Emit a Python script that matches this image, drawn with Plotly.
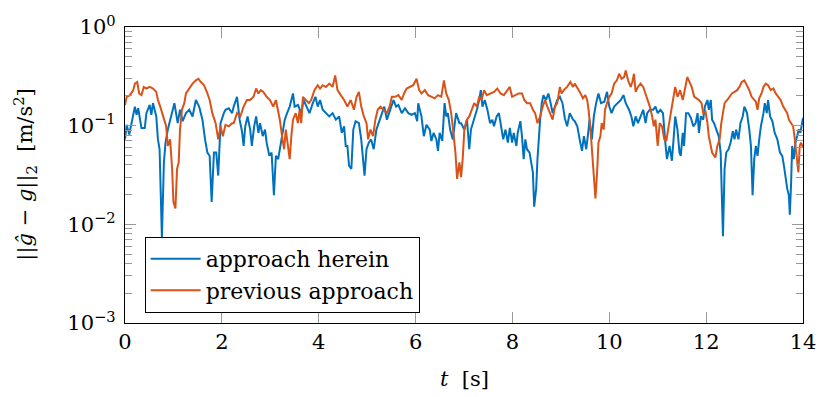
import plotly.graph_objects as go

# ---- data ----
t_herein = [0.0, 0.034, 0.088, 0.136, 0.204, 0.238, 0.272, 0.340, 0.408, 0.442, 0.510, 0.544, 0.578, 0.646, 0.680, 0.714, 0.762, 0.803, 0.837, 0.884, 0.952, 1.020, 1.054, 1.088, 1.136, 1.190, 1.259, 1.327, 1.395, 1.463, 1.531, 1.599, 1.653, 1.701, 1.748, 1.789, 1.837, 1.884, 1.925, 1.973, 2.041, 2.075, 2.143, 2.211,
            2.245, 2.313, 2.367, 2.415, 2.449, 2.483, 2.531, 2.585, 2.619, 2.667, 2.708, 2.755, 2.789, 2.844, 2.891, 2.925, 2.980, 3.027, 3.075, 3.116, 3.163, 3.197, 3.252, 3.299, 3.347, 3.401, 3.469, 3.503, 3.571, 3.639, 3.687, 3.742, 3.810, 3.878, 3.932, 3.980, 4.027, 4.082, 4.150, 4.218, 4.286, 4.354, 4.422, 4.476, 4.524, 4.558,
            4.592, 4.626, 4.674, 4.714, 4.762, 4.830, 4.878, 4.919, 4.946, 4.987, 5.034, 5.082, 5.136, 5.191, 5.238, 5.306, 5.354, 5.408, 5.476, 5.544, 5.599, 5.646, 5.714, 5.782, 5.850, 5.918, 5.986, 6.034, 6.054, 6.122, 6.170, 6.225, 6.293, 6.327, 6.374, 6.429, 6.463, 6.497, 6.551, 6.599, 6.633, 6.667, 6.714, 6.769, 6.837, 6.905,
            6.939, 7.007, 7.061, 7.109, 7.143, 7.211, 7.266, 7.313, 7.347, 7.381, 7.429, 7.483, 7.538, 7.585, 7.619, 7.674, 7.721, 7.755, 7.810, 7.857, 7.905, 7.946, 7.993, 8.027, 8.082, 8.109, 8.164, 8.197, 8.232, 8.266, 8.300, 8.354, 8.381, 8.422, 8.449, 8.490, 8.517, 8.544, 8.572, 8.606, 8.640, 8.694, 8.742, 8.789, 8.830, 8.878, 8.925, 8.980, 9.034, 9.082, 9.129, 9.184, 9.252,
            9.286, 9.340, 9.388, 9.436, 9.476, 9.524, 9.572, 9.592, 9.640, 9.681, 9.728, 9.776, 9.830, 9.898, 9.953, 10.000, 10.048, 10.102, 10.170, 10.238, 10.293, 10.340, 10.408, 10.456, 10.497, 10.544, 10.592, 10.646, 10.701, 10.749, 10.783, 10.837, 10.905, 10.953, 11.000, 11.055, 11.109, 11.157, 11.191, 11.245, 11.293, 11.327, 11.361, 11.408, 11.449, 11.476, 11.517, 11.544, 11.585,
            11.633, 11.687, 11.735, 11.783, 11.823, 11.851, 11.891, 11.939, 11.973, 12.027, 12.055, 12.096, 12.123, 12.164, 12.211, 12.259, 12.300, 12.327, 12.347, 12.381, 12.415, 12.463, 12.504, 12.551, 12.585, 12.619, 12.667, 12.708, 12.755, 12.789, 12.844, 12.891, 12.925, 12.959, 12.993, 13.027, 13.061, 13.096, 13.130, 13.184, 13.211, 13.252, 13.279, 13.320, 13.368, 13.415, 13.470, 13.524, 13.572, 13.606, 13.640, 13.674, 13.708, 13.728, 13.755, 13.776, 13.810, 13.844, 13.878, 13.912, 13.946, 13.980, 14.0]
err_herein = [0.0726, 0.102, 0.0814, 0.106, 0.156, 0.129, 0.150, 0.0948, 0.0948, 0.134, 0.162, 0.129, 0.169, 0.124, 0.0726, 0.0577, 0.0073, 0.0424, 0.0672, 0.0913, 0.124, 0.169, 0.134, 0.106, 0.145, 0.111, 0.134, 0.145, 0.124, 0.182, 0.156, 0.115, 0.0726, 0.0534, 0.0495, 0.0169, 0.0534, 0.0534, 0.0312, 0.106, 0.134, 0.145, 0.150, 0.134,
              0.156, 0.196, 0.115, 0.0879, 0.0623, 0.0985, 0.124, 0.0913, 0.0623, 0.0985, 0.124, 0.0846, 0.106, 0.0783, 0.0913, 0.0672, 0.0495, 0.0534, 0.0197, 0.0495, 0.0458, 0.0577, 0.0913, 0.115, 0.134, 0.156, 0.212, 0.156, 0.162, 0.134, 0.182, 0.156, 0.134, 0.169, 0.196, 0.156, 0.182, 0.145, 0.134, 0.124, 0.134, 0.115, 0.124, 0.0846, 0.0985, 0.0623,
              0.0623, 0.0393, 0.0364, 0.0913, 0.111, 0.106, 0.0726, 0.0424, 0.0312, 0.0577, 0.0672, 0.0726, 0.0577, 0.0913, 0.106, 0.134, 0.156, 0.115, 0.145, 0.182, 0.156, 0.162, 0.134, 0.150, 0.134, 0.129, 0.134, 0.111, 0.169, 0.124, 0.0783, 0.102, 0.0913, 0.0699, 0.0846, 0.0726, 0.0555, 0.0846, 0.0699, 0.169, 0.124, 0.134, 0.0913, 0.0726, 0.134, 0.106,
              0.106, 0.0913, 0.115, 0.0577, 0.0913, 0.115, 0.145, 0.182, 0.229, 0.156, 0.182, 0.145, 0.106, 0.115, 0.0985, 0.124, 0.134, 0.106, 0.0726, 0.0913, 0.0672, 0.0948, 0.0672, 0.0846, 0.0623, 0.0846, 0.111, 0.0783, 0.0458, 0.0726, 0.0577, 0.0534, 0.0458, 0.0337, 0.0151, 0.0230, 0.0458, 0.0783, 0.115, 0.169, 0.204, 0.182, 0.212, 0.169, 0.134, 0.156, 0.182, 0.196, 0.169, 0.119, 0.0985, 0.134, 0.115,
              0.111, 0.0985, 0.0726, 0.0555, 0.0783, 0.0577, 0.0913, 0.115, 0.0726, 0.124, 0.169, 0.212, 0.169, 0.175, 0.220, 0.156, 0.134, 0.156, 0.169, 0.182, 0.204, 0.169, 0.145, 0.124, 0.0985, 0.124, 0.106, 0.124, 0.145, 0.106, 0.134, 0.145, 0.145, 0.156, 0.134, 0.145, 0.134, 0.0672, 0.0458, 0.0623, 0.0441, 0.0726, 0.124, 0.0913, 0.0534, 0.0495, 0.0846, 0.0623, 0.134,
              0.134, 0.119, 0.0985, 0.106, 0.134, 0.0846, 0.124, 0.115, 0.156, 0.182, 0.145, 0.182, 0.115, 0.106, 0.0913, 0.0783, 0.0534, 0.0197, 0.00757, 0.0364, 0.0534, 0.0577, 0.0672, 0.0879, 0.0726, 0.0913, 0.0726, 0.106, 0.124, 0.156, 0.134, 0.0913, 0.0623, 0.0197, 0.0458, 0.0623, 0.0495, 0.0726, 0.0985, 0.134, 0.169, 0.134, 0.182, 0.124, 0.111, 0.0846, 0.0726, 0.0534, 0.0495, 0.0393, 0.0289, 0.0230, 0.0197, 0.0125, 0.0268, 0.0623, 0.0458, 0.0672, 0.0783, 0.0913, 0.0846, 0.115, 0.12]

t_prev = [0.0, 0.034, 0.102, 0.170, 0.204, 0.252, 0.293, 0.340, 0.388, 0.442, 0.510, 0.578, 0.646, 0.680, 0.728, 0.782, 0.850, 0.884, 0.932, 0.973, 1.000, 1.041, 1.075, 1.109, 1.136, 1.177, 1.224, 1.259, 1.327, 1.395, 1.463, 1.517, 1.565, 1.633, 1.701, 1.748, 1.803, 1.871, 1.925, 1.973, 2.020, 2.075, 2.143, 2.211,
          2.245, 2.313, 2.381, 2.449, 2.517, 2.585, 2.653, 2.708, 2.755, 2.803, 2.857, 2.925, 2.993, 3.061, 3.116, 3.163, 3.197, 3.252, 3.286, 3.320, 3.354, 3.401, 3.435, 3.469, 3.524, 3.571, 3.605, 3.639, 3.674, 3.742, 3.796, 3.844, 3.912, 3.980, 4.027, 4.082, 4.150, 4.218, 4.286, 4.340, 4.388, 4.456, 4.524,
          4.592, 4.660, 4.728, 4.782, 4.830, 4.878, 4.932, 4.987, 5.020, 5.068, 5.122, 5.170, 5.218, 5.272, 5.340, 5.408, 5.463, 5.510, 5.578, 5.646, 5.714, 5.762, 5.816, 5.884, 5.952, 6.020, 6.075, 6.122, 6.191, 6.259, 6.327, 6.395, 6.463, 6.531, 6.585, 6.633, 6.687, 6.735, 6.782, 6.823, 6.857, 6.905, 6.939, 6.973,
          7.007, 7.061, 7.109, 7.157, 7.211, 7.266, 7.313, 7.361, 7.415, 7.470, 7.551, 7.619, 7.687, 7.755, 7.823, 7.891, 7.946, 7.993, 8.061, 8.129, 8.197, 8.245, 8.300, 8.368, 8.422, 8.469, 8.517, 8.572, 8.626, 8.674, 8.721, 8.776, 8.830, 8.878, 8.925, 8.980, 9.014, 9.061, 9.129, 9.197, 9.252,
          9.286, 9.354, 9.408, 9.456, 9.504, 9.544, 9.572, 9.612, 9.640, 9.667, 9.694, 9.714, 9.749, 9.776, 9.817, 9.844, 9.885, 9.912, 9.953, 10.000, 10.048, 10.102, 10.157, 10.204, 10.252, 10.306, 10.340, 10.388, 10.442, 10.476, 10.510, 10.544, 10.592, 10.646, 10.701, 10.749, 10.796, 10.837, 10.885, 10.919, 10.953, 11.000, 11.041, 11.089, 11.136, 11.177, 11.225, 11.272, 11.327, 11.361, 11.408, 11.463, 11.517, 11.565, 11.612,
          11.701, 11.755, 11.803, 11.851, 11.905, 11.939, 11.987, 12.027, 12.055, 12.096, 12.123, 12.164, 12.191, 12.231, 12.279, 12.313, 12.347, 12.381, 12.436, 12.483, 12.531, 12.585, 12.640, 12.687, 12.735, 12.789, 12.844, 12.891, 12.939, 12.993, 13.027, 13.061, 13.096, 13.143, 13.184, 13.232, 13.279, 13.334, 13.388, 13.436, 13.483, 13.538, 13.592, 13.640, 13.674, 13.708, 13.755, 13.796, 13.823, 13.851, 13.878, 13.905, 13.932, 13.959, 13.986, 14.0]
err_prev = [0.162, 0.196, 0.204, 0.229, 0.267, 0.277, 0.212, 0.204, 0.247, 0.238, 0.247, 0.238, 0.220, 0.182, 0.156, 0.124, 0.0985, 0.0623, 0.0726, 0.0364, 0.0169, 0.0145, 0.0364, 0.0424, 0.0913, 0.145, 0.169, 0.212, 0.238, 0.267, 0.288, 0.299, 0.277, 0.257, 0.212, 0.182, 0.134, 0.106, 0.0726, 0.0985, 0.0783, 0.102, 0.0985, 0.106,
            0.106, 0.134, 0.124, 0.156, 0.182, 0.182, 0.196, 0.238, 0.212, 0.229, 0.220, 0.196, 0.182, 0.156, 0.182, 0.134, 0.115, 0.0726, 0.0577, 0.0913, 0.0672, 0.0458, 0.0783, 0.115, 0.134, 0.106, 0.145, 0.106, 0.196, 0.182, 0.169, 0.182, 0.229, 0.257, 0.238, 0.257, 0.247, 0.267, 0.247, 0.323, 0.229, 0.204, 0.182,
            0.156, 0.182, 0.145, 0.196, 0.220, 0.156, 0.124, 0.106, 0.0726, 0.0913, 0.0783, 0.115, 0.145, 0.156, 0.145, 0.134, 0.156, 0.196, 0.196, 0.204, 0.182, 0.212, 0.238, 0.247, 0.257, 0.299, 0.229, 0.212, 0.229, 0.204, 0.196, 0.189, 0.204, 0.196, 0.288, 0.212, 0.182, 0.134, 0.0846, 0.0534, 0.0289, 0.0424, 0.0301, 0.0458,
            0.0913, 0.115, 0.124, 0.145, 0.169, 0.156, 0.196, 0.182, 0.229, 0.204, 0.212, 0.220, 0.238, 0.212, 0.204, 0.229, 0.247, 0.196, 0.204, 0.212, 0.212, 0.182, 0.169, 0.169, 0.145, 0.134, 0.106, 0.124, 0.156, 0.182, 0.156, 0.134, 0.115, 0.156, 0.169, 0.247, 0.212, 0.229, 0.247, 0.277, 0.247,
            0.267, 0.238, 0.212, 0.189, 0.204, 0.182, 0.145, 0.0913, 0.0623, 0.0424, 0.0248, 0.0183, 0.0337, 0.0672, 0.0783, 0.106, 0.0913, 0.145, 0.169, 0.196, 0.212, 0.267, 0.288, 0.336, 0.299, 0.311, 0.362, 0.288, 0.247, 0.277, 0.336, 0.220, 0.247, 0.267, 0.247, 0.212, 0.182, 0.156, 0.124, 0.0985, 0.115, 0.0623, 0.106, 0.0985, 0.0726, 0.0699, 0.0985, 0.134, 0.182, 0.247, 0.196, 0.229, 0.182, 0.247, 0.311,
            0.247, 0.196, 0.189, 0.182, 0.169, 0.134, 0.139, 0.106, 0.0783, 0.0623, 0.0534, 0.0495, 0.0476, 0.0623, 0.0726, 0.106, 0.134, 0.169, 0.182, 0.196, 0.212, 0.220, 0.229, 0.247, 0.277, 0.288, 0.257, 0.229, 0.196, 0.182, 0.175, 0.145, 0.189, 0.212, 0.247, 0.267, 0.257, 0.229, 0.238, 0.212, 0.196, 0.182, 0.156, 0.145, 0.134, 0.115, 0.106, 0.0985, 0.0783, 0.0577, 0.0424, 0.0337, 0.0623, 0.0672, 0.0623, 0.06]

x_tickvals = [0, 2, 4, 6, 8, 10, 12, 14]
y_tickvals = [1e-3, 1e-2, 1e-1, 1e0]
y_ticktext = ["10<sup>\u22123</sup>", "10<sup>\u22122</sup>", "10<sup>\u22121</sup>", "10<sup>0</sup>"]
y_minor = [m * 10.0 ** k for k in (-3, -2, -1) for m in range(2, 10)]

BLUE = "#0072BD"
ORANGE = "#D95319"
FONT = "DejaVu Serif"

fig = go.Figure()
fig.add_trace(go.Scatter(x=t_herein, y=err_herein, mode="lines", name="approach herein",
                         line=dict(color=BLUE, width=2)))
fig.add_trace(go.Scatter(x=t_prev, y=err_prev, mode="lines", name="previous approach",
                         line=dict(color=ORANGE, width=2)))

fig.update_layout(
    width=828, height=397,
    margin=dict(l=125, r=17, t=22, b=74),
    paper_bgcolor="white", plot_bgcolor="white",
    font=dict(family=FONT, size=20, color="black"),
    showlegend=True,
    legend=dict(x=0.029, y=0.034, xanchor="left", yanchor="bottom",
                bordercolor="black", borderwidth=1, bgcolor="white",
                font=dict(family=FONT, size=22), tracegroupgap=0,
                itemwidth=50),
    xaxis=dict(range=[0, 14], tickmode="array", tickvals=x_tickvals,
               ticks="inside", ticklen=11, tickcolor="#999999", tickwidth=1,
               showline=True, linecolor="black", linewidth=1.2, mirror="ticks",
               showgrid=False, zeroline=False, tickfont=dict(family=FONT, size=21)),
    yaxis=dict(type="log", range=[-3, 0], tickmode="array", tickvals=y_tickvals,
               ticktext=y_ticktext,
               ticks="inside", ticklen=11, tickcolor="#999999", tickwidth=1,
               showline=True, linecolor="black", linewidth=1.2, mirror="ticks",
               showgrid=False, zeroline=False, tickfont=dict(family=FONT, size=21),
               ticklabelstandoff=4,
               minor=dict(tickmode="array", tickvals=y_minor, ticks="inside",
                          ticklen=7, tickcolor="#999999", tickwidth=1, showgrid=False)),
    annotations=[
        dict(text="||<i>\u011d</i> \u2212 <i>g</i>||<sub>2</sub>  [m/s<sup>2</sup>]",
             xref="paper", yref="paper", x=-0.148, y=0.5, xanchor="center", yanchor="middle",
             textangle=-90, showarrow=False, font=dict(family=FONT, size=21)),
        dict(text="<i>t</i>  [s]", xref="paper", yref="paper", x=0.5, y=-0.19,
             xanchor="center", yanchor="middle", showarrow=False,
             font=dict(family=FONT, size=21)),
    ],
)

fig.write_html("out.html")
